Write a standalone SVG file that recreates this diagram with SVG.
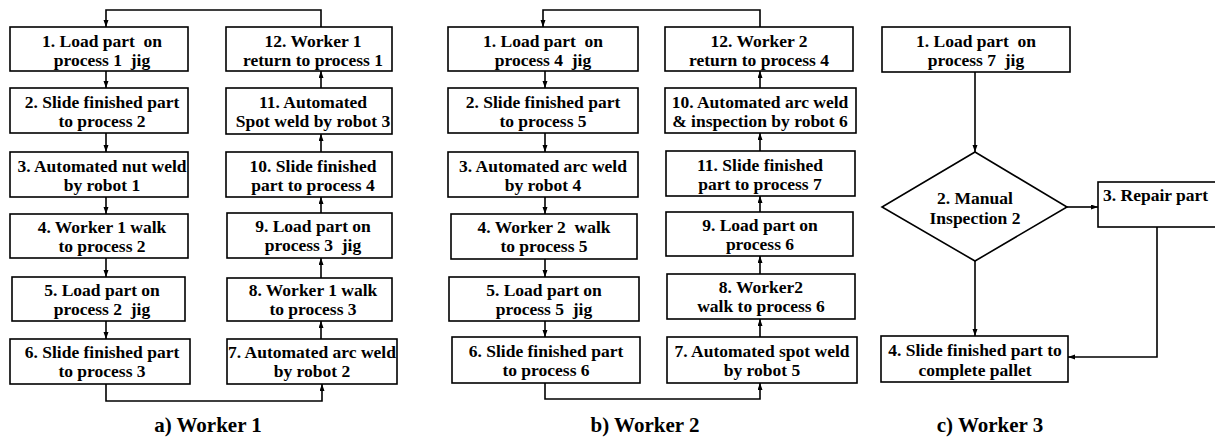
<svg xmlns="http://www.w3.org/2000/svg" width="1215" height="439" viewBox="0 0 1215 439">
<style>
.box{fill:#fff;stroke:#000;stroke-width:1.6}
.t{font-family:"Liberation Serif","Times New Roman",serif;font-weight:bold;font-size:17.5px;text-anchor:middle;white-space:pre;fill:#000}
.ttl{font-family:"Liberation Serif","Times New Roman",serif;font-weight:bold;font-size:21px;text-anchor:middle;fill:#000}
.c{fill:none;stroke:#000;stroke-width:1.6;marker-end:url(#arr)}
</style>
<defs>
<marker id="arr" markerUnits="userSpaceOnUse" markerWidth="8" markerHeight="6" refX="7" refY="2.5" orient="auto">
<path d="M0,0 L7,2.5 L0,5 z" fill="#000"/>
</marker>
</defs>
<rect width="1215" height="439" fill="#fff"/>

<g id="connectors">
<path class="c" d="M106,71 V88"/>
<path class="c" d="M106,133 V152"/>
<path class="c" d="M106,197 V214"/>
<path class="c" d="M106,258 V277"/>
<path class="c" d="M106,321 V339"/>
<path class="c" d="M106,384 V401 H322 V384"/>
<path class="c" d="M321,339 V321"/>
<path class="c" d="M321,278 V258"/>
<path class="c" d="M321,213 V197"/>
<path class="c" d="M321,152 V134"/>
<path class="c" d="M321,88 V71"/>
<path class="c" d="M321,27 V10 H106 V27"/>
<path class="c" d="M545,71 V88"/>
<path class="c" d="M545,133 V152"/>
<path class="c" d="M545,197 V214"/>
<path class="c" d="M545,259 V277"/>
<path class="c" d="M545,321 V337"/>
<path class="c" d="M545,383 V399 H760 V383"/>
<path class="c" d="M760,337 V319"/>
<path class="c" d="M760,274 V256"/>
<path class="c" d="M760,212 V196"/>
<path class="c" d="M760,151 V133"/>
<path class="c" d="M760,88 V71"/>
<path class="c" d="M760,27 V10 H543 V27"/>
<path class="c" d="M975,72 V152"/>
<path class="c" d="M1067,207 H1098"/>
<path class="c" d="M975,261 V336"/>
<path class="c" d="M1157,227 V357 H1068"/>
</g>

<g id="w1-n1"><rect class="box" x="10" y="27" width="178" height="44"/><text class="t" y="47"><tspan x="102">1. Load part  on</tspan><tspan x="102" dy="19">process 1  jig</tspan></text></g>
<g id="w1-n2"><rect class="box" x="10" y="88" width="178" height="45"/><text class="t" y="108"><tspan x="102">2. Slide finished part</tspan><tspan x="102" dy="19">to process 2</tspan></text></g>
<g id="w1-n3"><rect class="box" x="10" y="152" width="178" height="45"/><text class="t" y="172"><tspan x="102">3. Automated nut weld</tspan><tspan x="102" dy="19">by robot 1</tspan></text></g>
<g id="w1-n4"><rect class="box" x="10" y="214" width="178" height="44"/><text class="t" y="233"><tspan x="102">4. Worker 1 walk</tspan><tspan x="102" dy="19">to process 2</tspan></text></g>
<g id="w1-n5"><rect class="box" x="12" y="277" width="173" height="44"/><text class="t" y="296"><tspan x="102">5. Load part on</tspan><tspan x="102" dy="19">process 2  jig</tspan></text></g>
<g id="w1-n6"><rect class="box" x="10" y="339" width="180" height="45"/><text class="t" y="358"><tspan x="102">6. Slide finished part</tspan><tspan x="102" dy="19">to process 3</tspan></text></g>
<g id="w1-n7"><rect class="box" x="227" y="339" width="170" height="45"/><text class="t" y="358"><tspan x="312">7. Automated arc weld</tspan><tspan x="312" dy="19">by robot 2</tspan></text></g>
<g id="w1-n8"><rect class="box" x="227" y="278" width="165" height="43"/><text class="t" y="296"><tspan x="313">8. Worker 1 walk</tspan><tspan x="313" dy="19">to process 3</tspan></text></g>
<g id="w1-n9"><rect class="box" x="227" y="213" width="165" height="45"/><text class="t" y="232"><tspan x="313">9. Load part on</tspan><tspan x="313" dy="19">process 3  jig</tspan></text></g>
<g id="w1-n10"><rect class="box" x="226" y="152" width="166" height="45"/><text class="t" y="172"><tspan x="313">10. Slide finished</tspan><tspan x="313" dy="19">part to process 4</tspan></text></g>
<g id="w1-n11"><rect class="box" x="226" y="88" width="166" height="46"/><text class="t" y="108"><tspan x="313">11. Automated</tspan><tspan x="313" dy="19">Spot weld by robot 3</tspan></text></g>
<g id="w1-n12"><rect class="box" x="226" y="27" width="166" height="44"/><text class="t" y="47"><tspan x="313">12. Worker 1</tspan><tspan x="313" dy="19">return to process 1</tspan></text></g>

<g id="w2-n1"><rect class="box" x="448" y="27" width="190" height="44"/><text class="t" y="47"><tspan x="543">1. Load part  on</tspan><tspan x="543" dy="19">process 4  jig</tspan></text></g>
<g id="w2-n2"><rect class="box" x="448" y="88" width="190" height="45"/><text class="t" y="108"><tspan x="543">2. Slide finished part</tspan><tspan x="543" dy="19">to process 5</tspan></text></g>
<g id="w2-n3"><rect class="box" x="448" y="152" width="190" height="45"/><text class="t" y="172"><tspan x="543">3. Automated arc weld</tspan><tspan x="543" dy="19">by robot 4</tspan></text></g>
<g id="w2-n4"><rect class="box" x="451" y="214" width="186" height="45"/><text class="t" y="233"><tspan x="544">4. Worker 2  walk</tspan><tspan x="544" dy="19">to process 5</tspan></text></g>
<g id="w2-n5"><rect class="box" x="449" y="277" width="190" height="44"/><text class="t" y="296"><tspan x="544">5. Load part on</tspan><tspan x="544" dy="19">process 5  jig</tspan></text></g>
<g id="w2-n6"><rect class="box" x="452" y="337" width="188" height="46"/><text class="t" y="357"><tspan x="546">6. Slide finished part</tspan><tspan x="546" dy="19">to process 6</tspan></text></g>
<g id="w2-n7"><rect class="box" x="667" y="337" width="190" height="46"/><text class="t" y="357"><tspan x="762">7. Automated spot weld</tspan><tspan x="762" dy="19">by robot 5</tspan></text></g>
<g id="w2-n8"><rect class="box" x="667" y="274" width="188" height="45"/><text class="t" y="293"><tspan x="761">8. Worker2</tspan><tspan x="761" dy="19">walk to process 6</tspan></text></g>
<g id="w2-n9"><rect class="box" x="666" y="212" width="187" height="44"/><text class="t" y="231"><tspan x="760">9. Load part on</tspan><tspan x="760" dy="19">process 6</tspan></text></g>
<g id="w2-n11"><rect class="box" x="666" y="151" width="189" height="45"/><text class="t" y="171"><tspan x="760">11. Slide finished</tspan><tspan x="760" dy="19">part to process 7</tspan></text></g>
<g id="w2-n10"><rect class="box" x="665" y="88" width="191" height="45"/><text class="t" y="108"><tspan x="760">10. Automated arc weld</tspan><tspan x="760" dy="19">&amp; inspection by robot 6</tspan></text></g>
<g id="w2-n12"><rect class="box" x="665" y="27" width="188" height="44"/><text class="t" y="47"><tspan x="759">12. Worker 2</tspan><tspan x="759" dy="19">return to process 4</tspan></text></g>

<g id="w3-n1"><rect class="box" x="882" y="27" width="188" height="45"/><text class="t" y="47"><tspan x="976">1. Load part  on</tspan><tspan x="976" dy="19">process 7  jig</tspan></text></g>
<g id="w3-n2"><polygon class="box" points="975,152 1067,207 975,261 882,207"/><text class="t" y="204"><tspan x="975">2. Manual</tspan><tspan x="975" dy="20">Inspection 2</tspan></text></g>
<g id="w3-n3"><rect class="box" x="1098" y="182" width="130" height="45"/><text class="t" x="1103" y="201" style="text-anchor:start">3. Repair part</text></g>
<g id="w3-n4"><rect class="box" x="881" y="336" width="187" height="46"/><text class="t" y="356"><tspan x="975">4. Slide finished part to</tspan><tspan x="975" dy="20">complete pallet</tspan></text></g>

<g id="titles">
<text class="ttl" x="208" y="432">a) Worker 1</text>
<text class="ttl" x="645" y="432">b) Worker 2</text>
<text class="ttl" x="990" y="432">c) Worker 3</text>
</g>
</svg>
